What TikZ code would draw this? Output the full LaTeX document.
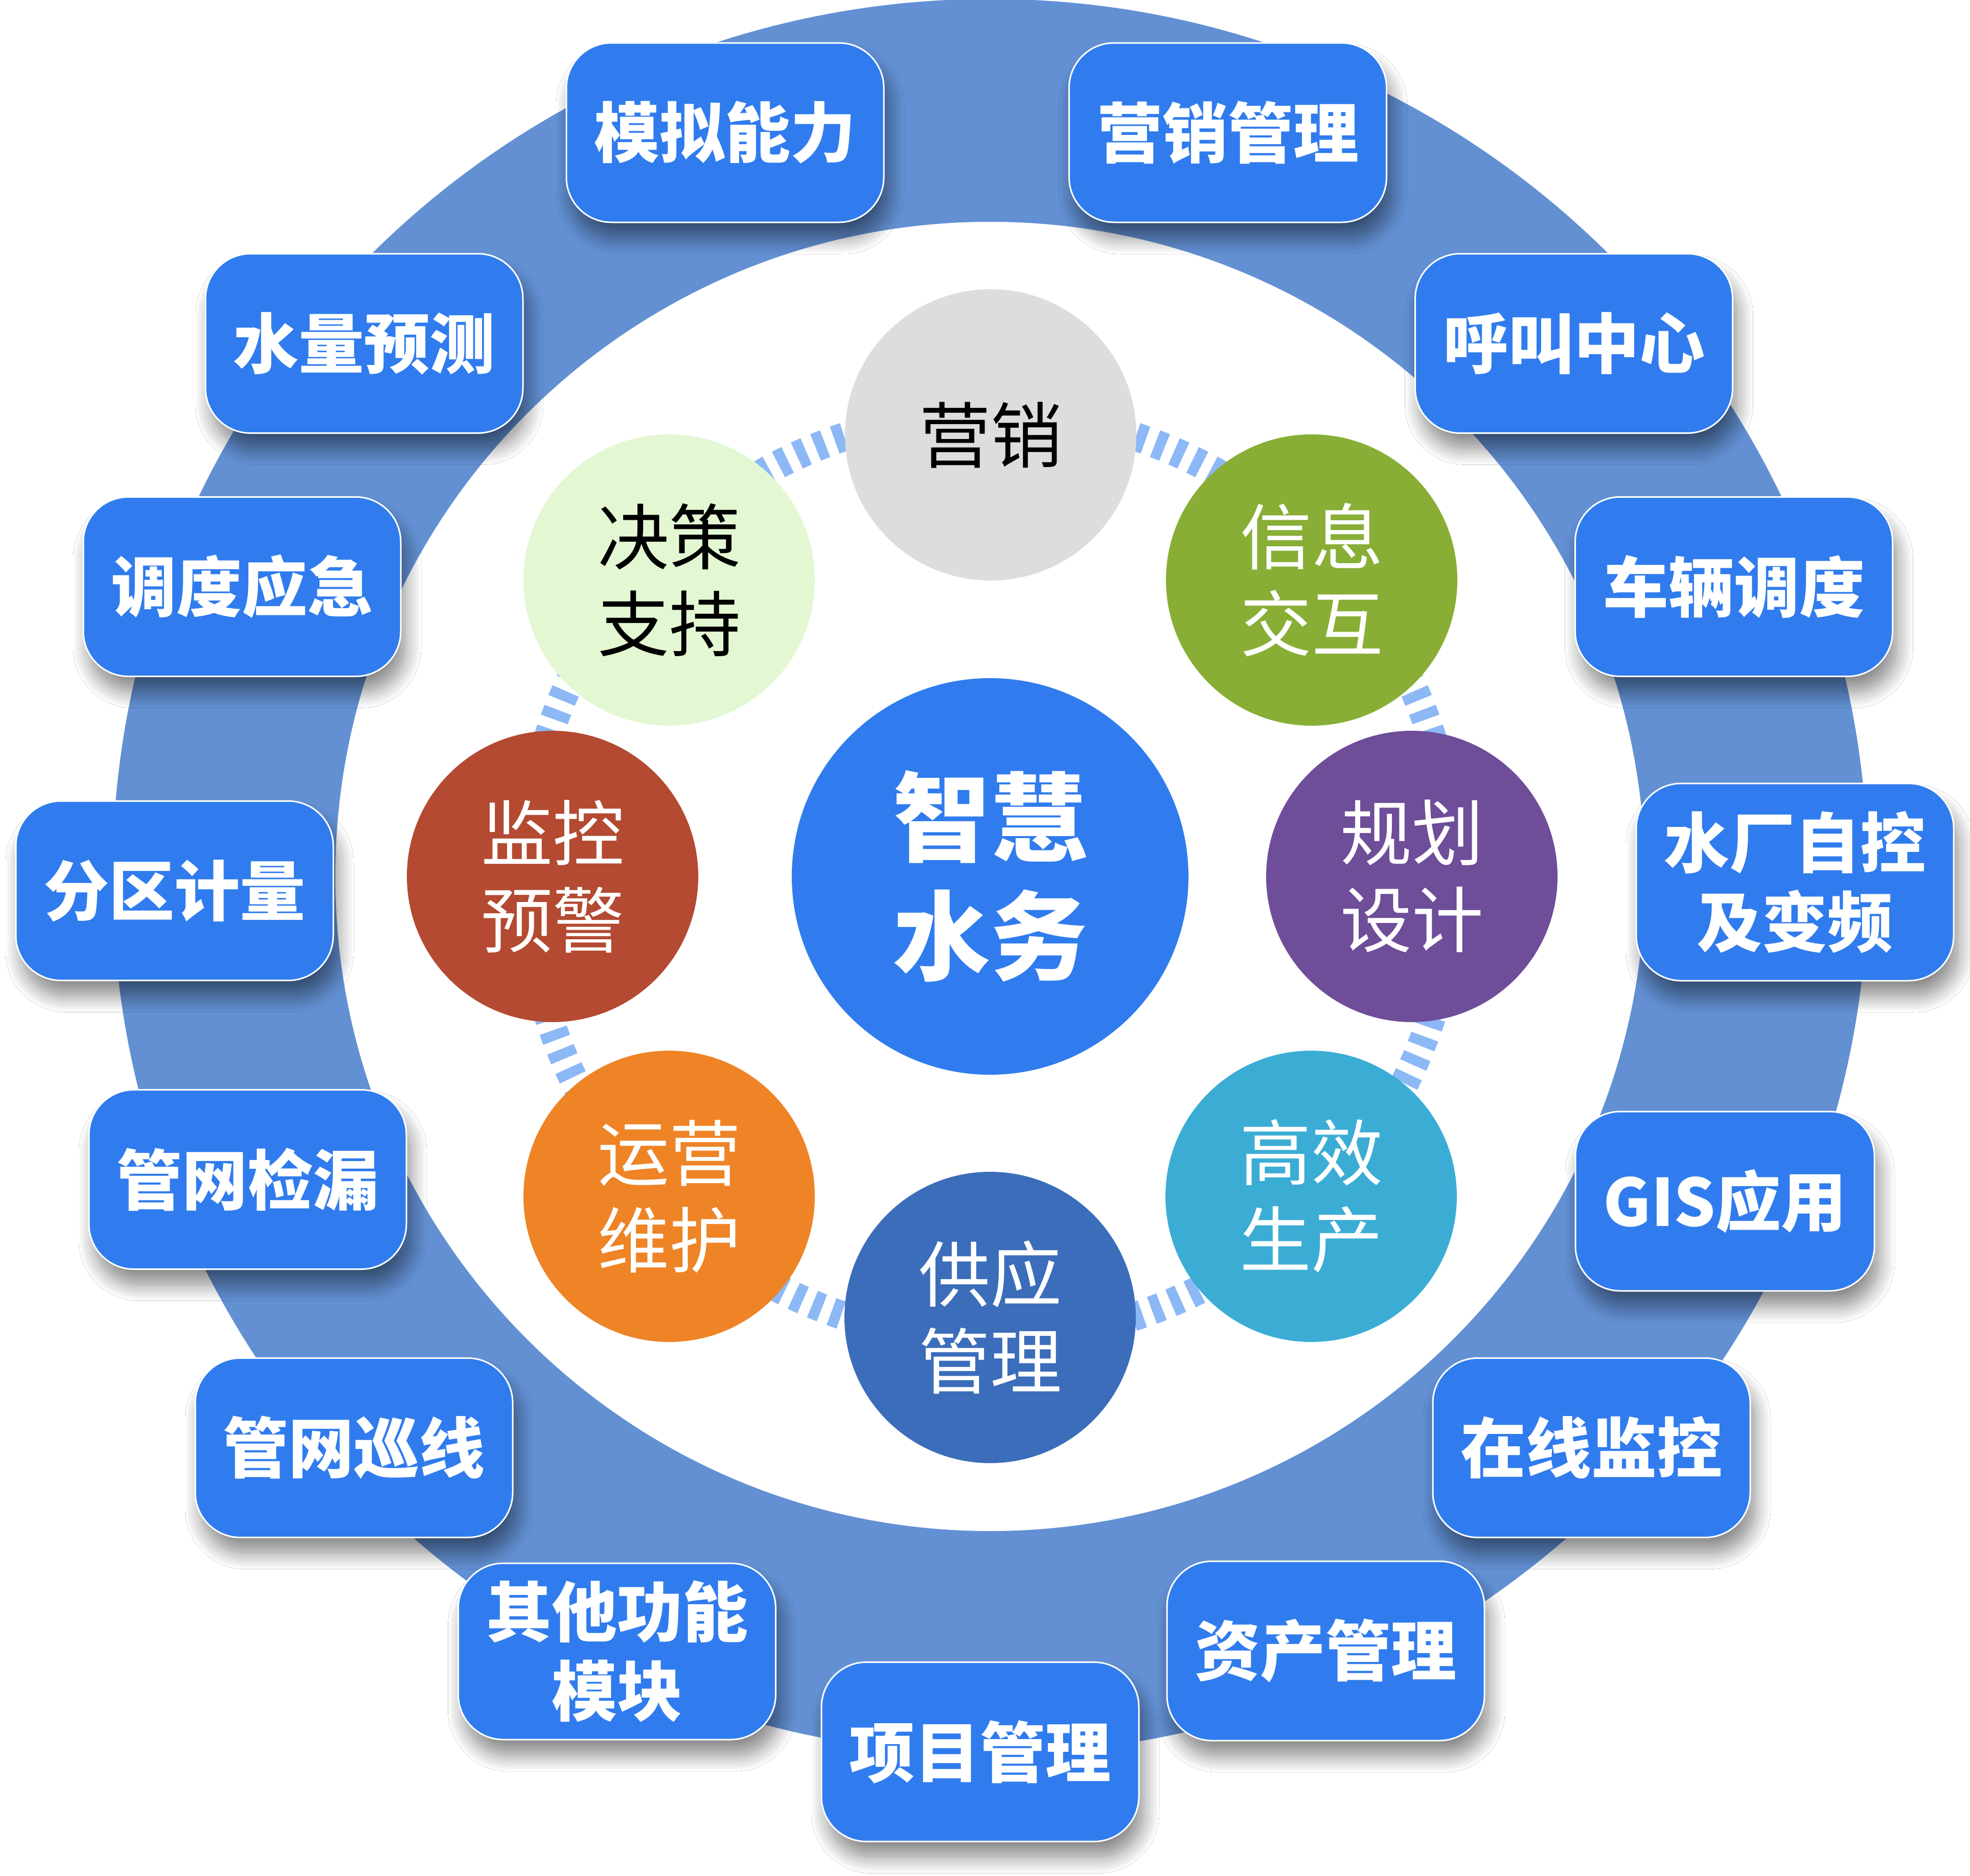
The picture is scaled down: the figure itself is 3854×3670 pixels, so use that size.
\documentclass[tikz,border=0pt]{standalone}
\usepackage{fontspec}
\usetikzlibrary{shadows.blur}
\newfontfamily\cjk{Noto Sans CJK SC}
\definecolor{ringc}{RGB}{98,144,211}
\definecolor{boxc}{RGB}{48,124,238}
\definecolor{stripec}{RGB}{141,184,246}
\definecolor{cgray}{RGB}{221,221,221}
\definecolor{cgreen}{RGB}{136,174,53}
\definecolor{cpurple}{RGB}{110,77,153}
\definecolor{cteal}{RGB}{59,173,213}
\definecolor{cdblue}{RGB}{59,109,186}
\definecolor{corange}{RGB}{238,132,38}
\definecolor{cred}{RGB}{179,74,49}
\definecolor{clgreen}{RGB}{227,247,211}
\tikzset{
  funcbox/.style={rectangle, rounded corners=88pt, fill=boxc, draw=white, line width=3pt,
    minimum width=621pt, minimum height=351pt, inner sep=0pt, align=center, text=white,
    font={\cjk\bfseries\fontsize{128pt}{155pt}\selectfont},
    blur shadow={shadow xshift=10pt, shadow yshift=-32pt, shadow blur radius=30pt, shadow opacity=45, shadow blur steps=12}},
  topic/.style={circle, minimum size=570pt, inner sep=0pt, align=center, text=white,
    font={\cjk\fontsize{140pt}{170pt}\selectfont}},
  hub/.style={circle, minimum size=776pt, inner sep=0pt, align=center, text=white, fill=boxc,
    font={\cjk\bfseries\fontsize{190pt}{232pt}\selectfont}},
  stripes/.style={stripec, line width=56pt, dash pattern=on 20pt off 20pt}
}
\begin{document}
\begin{tikzpicture}[x=1pt,y=-1pt]
\useasboundingbox (0,0) rectangle (3854,3670);
\fill[white] (0,0) rectangle (3854,3670);
\coordinate (c) at (1937,1715);
% outer ring
\fill[ringc, even odd rule] (c) circle[radius=1717] (c) circle[radius=1281];
% dashed ring linking the topic circles
\draw[stripes] (c) circle[radius=906];
% topic circles
\node[topic, fill=cgray, text=black] (yx) at (1938,851) {营销};
\node[topic, fill=cgreen] (xx) at (2566,1135) {信息\\交互};
\node[topic, fill=cpurple] (gh) at (2762,1715) {规划\\设计};
\node[topic, fill=cteal] (gx) at (2565,2341) {高效\\生产};
\node[topic, fill=cdblue] (gy) at (1937,2578) {供应\\管理};
\node[topic, fill=corange] (yy) at (1309,2341) {运营\\维护};
\node[topic, fill=cred] (jk) at (1081,1715) {监控\\预警};
\node[topic, fill=clgreen, text=black] (jc) at (1309,1135) {决策\\支持};
% hub
\node[hub] (hub) at (c) {智慧\\水务};
% function boxes
\node[funcbox] (b1) at (1418.5,259.5) {模拟能力};
\node[funcbox] (b2) at (2402,259.5) {营销管理};
\node[funcbox] (b3) at (712.5,672) {水量预测};
\node[funcbox] (b4) at (3079,672) {呼叫中心};
\node[funcbox] (b5) at (473.5,1148) {调度应急};
\node[funcbox] (b6) at (3392,1148) {车辆调度};
\node[funcbox] (b7) at (341.5,1743) {分区计量};
\node[funcbox, minimum height=386pt] (b8) at (3511.5,1726) {水厂自控\\及变频};
\node[funcbox] (b9) at (484.5,2308) {管网检漏};
\node[funcbox, minimum width=585pt] (b10) at (3374.5,2350.5) {GIS应用};
\node[funcbox] (b11) at (692.5,2833) {管网巡线};
\node[funcbox] (b12) at (3113.5,2833) {在线监控};
\node[funcbox, minimum height=345pt] (b13) at (1207,3231.5) {其他功能\\模块};
\node[funcbox] (b14) at (2593.5,3230.5) {资产管理};
\node[funcbox] (b15) at (1917.5,3428) {项目管理};
\end{tikzpicture}
\end{document}
